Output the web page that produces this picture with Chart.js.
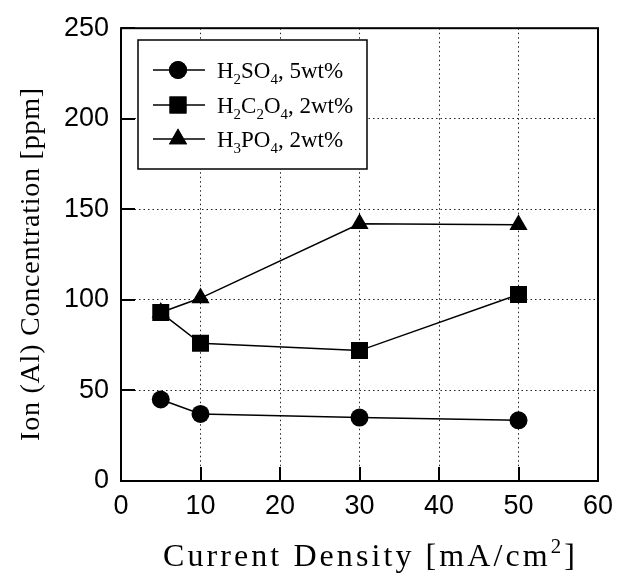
<!DOCTYPE html>
<html>
<head>
<meta charset="utf-8">
<script src="https://cdn.jsdelivr.net/npm/chart.js@4.4.1/dist/chart.umd.min.js"></script>
<style>
  html, body { margin: 0; padding: 0; background: #fff; }
  #wrap { width: 625px; height: 575px; }
</style>
</head>
<body>
<div id="wrap"><canvas id="chart" width="625" height="575"></canvas></div>
<script>
// Data
const currentDensity = [5, 10, 30, 50];          // mA/cm2
const h2so4 = [45, 37, 35, 33.5];                  // H2SO4, 5wt%
const h2c2o4 = [93, 76, 72, 103];                  // H2C2O4, 2wt%
const h3po4 = [93, 101, 142, 141.5];               // H3PO4, 2wt%
const xTicks = [0, 10, 20, 30, 40, 50, 60];
const yTicks = [0, 50, 100, 150, 200, 250];

// legend labels as pieces: [text, 0 normal / 1 subscript]
const legendParts = [
    [["H", 0], ["2", 1], ["SO", 0], ["4", 1], [", 5wt%", 0]],
    [["H", 0], ["2", 1], ["C", 0], ["2", 1], ["O", 0], ["4", 1], [", 2wt%", 0]],
    [["H", 0], ["3", 1], ["PO", 0], ["4", 1], [", 2wt%", 0]]
];

const serif = '"Liberation Serif", "Times New Roman", serif';
const sans = '"Liberation Sans", Arial, sans-serif';

function toPoints(ys) {
    return currentDensity.map((x, i) => ({ x: x, y: ys[i] }));
}

function series(label, ys, style, radius) {
    return {
        label: label,
        data: toPoints(ys),
        borderColor: "#000",
        backgroundColor: "#000",
        borderWidth: 1.5,
        pointStyle: style,
        pointRadius: radius,
        pointBorderWidth: 0,
        pointBackgroundColor: "#000",
        showLine: true,
        tension: 0
    };
}

// draw text pieces with sub/superscripts, returns end x
function drawParts(ctx, parts, x, y, size) {
    parts.forEach(p => {
        const small = p[1] !== 0;
        ctx.font = (small ? size * 0.65 : size) + "px " + serif;
        const dy = p[1] === 1 ? size * 0.25 : (p[1] === 2 ? -size * 0.4 : 0);
        ctx.fillText(p[0], x, y + dy);
        x += ctx.measureText(p[0]).width;
    });
    return x;
}

function partsWidth(ctx, parts, size) {
    let w = 0;
    parts.forEach(p => {
        ctx.font = (p[1] !== 0 ? size * 0.65 : size) + "px " + serif;
        w += ctx.measureText(p[0]).width;
    });
    return w;
}

// frame, inner ticks, legend and axis titles
const decorations = {
    id: "decorations",
    afterDatasetsDraw(chart) {
        const ctx = chart.ctx;
        const area = chart.chartArea;
        const xs = chart.scales.x, ys = chart.scales.y;
        ctx.save();
        ctx.strokeStyle = "#000";
        ctx.lineWidth = 2;
        ctx.setLineDash([]);
        ctx.strokeRect(area.left, area.top, area.right - area.left, area.bottom - area.top);

        // inner ticks
        ctx.lineWidth = 2;
        ctx.beginPath();
        xTicks.forEach(v => {
            const px = Math.round(xs.getPixelForValue(v));
            ctx.moveTo(px, area.bottom);
            ctx.lineTo(px, area.bottom - 14);
        });
        yTicks.forEach(v => {
            const py = Math.round(ys.getPixelForValue(v));
            ctx.moveTo(area.left, py);
            ctx.lineTo(area.left + 14, py);
        });
        ctx.stroke();

        // legend box
        const bx = 138, by = 40, bw = 229, bh = 129;
        ctx.fillStyle = "#fff";
        ctx.fillRect(bx, by, bw, bh);
        ctx.lineWidth = 1.5;
        ctx.strokeRect(bx, by, bw, bh);
        const rows = [70, 105, 139];
        chart.data.datasets.forEach((ds, i) => {
            const y = rows[i];
            ctx.strokeStyle = "#000";
            ctx.lineWidth = 1.5;
            ctx.beginPath();
            ctx.moveTo(153, y);
            ctx.lineTo(205, y);
            ctx.stroke();
            ctx.fillStyle = "#000";
            Chart.helpers.drawPoint(ctx, { pointStyle: ds.pointStyle, radius: ds.pointRadius, borderWidth: 0 }, 178, y);
            ctx.fill();
            ctx.textBaseline = "alphabetic";
            ctx.textAlign = "left";
            drawParts(ctx, legendParts[i], 217, y + 8, 23);
        });

        // axis titles
        ctx.fillStyle = "#000";
        ctx.textAlign = "left";
        ctx.textBaseline = "alphabetic";
        const xParts = [["Current Density [mA/cm", 0], ["2", 2], ["]", 0]];
        const xSize = 32;
        const xTarget = 415;
        const chars = "Current Density [mA/cm2]".length;
        ctx.letterSpacing = "0px";
        const natural = partsWidth(ctx, xParts, xSize);
        ctx.letterSpacing = Math.max(0, (xTarget - natural) / chars).toFixed(2) + "px";
        drawParts(ctx, xParts, 163, 566, xSize);

        const yText = "Ion (Al) Concentration [ppm]";
        ctx.letterSpacing = "0px";
        ctx.font = "28px " + serif;
        const yNat = ctx.measureText(yText).width;
        ctx.letterSpacing = Math.max(0, (354 - yNat) / yText.length).toFixed(2) + "px";
        ctx.translate(39, 264);
        ctx.rotate(-Math.PI / 2);
        ctx.textAlign = "center";
        ctx.fillText(yText, 0, 0);
        ctx.restore();
    }
};

new Chart(document.getElementById("chart"), {
    type: "scatter",
    data: {
        datasets: [
            series("H2SO4, 5wt%", h2so4, "circle", 9),
            series("H2C2O4, 2wt%", h2c2o4, "rect", 12),
            series("H3PO4, 2wt%", h3po4, "triangle", 10.5)
        ]
    },
    options: {
        responsive: false,
        animation: false,
        layout: { padding: { left: 0, top: 20, right: 27, bottom: 0 } },
        plugins: {
            legend: { display: false },
            tooltip: { enabled: false }
        },
        scales: {
            x: {
                type: "linear",
                min: 0,
                max: 60,
                afterBuildTicks: s => { s.ticks = xTicks.map(v => ({ value: v })); },
                afterFit: s => { s.height = 94; },
                ticks: {
                    color: "#000",
                    font: { family: sans, size: 27 },
                    padding: 9,
                    maxRotation: 0
                },
                grid: { color: "#222", lineWidth: 1, drawTicks: false },
                border: { display: false, dash: [1.5, 3] }
            },
            y: {
                min: 0,
                max: 250,
                afterBuildTicks: s => { s.ticks = yTicks.map(v => ({ value: v })); },
                afterFit: s => { s.width = 121; },
                ticks: {
                    color: "#000",
                    font: { family: sans, size: 27 },
                    padding: 12
                },
                grid: { color: "#222", lineWidth: 1, drawTicks: false },
                border: { display: false, dash: [1.5, 3] }
            }
        }
    },
    plugins: [decorations]
});
</script>
</body>
</html>
